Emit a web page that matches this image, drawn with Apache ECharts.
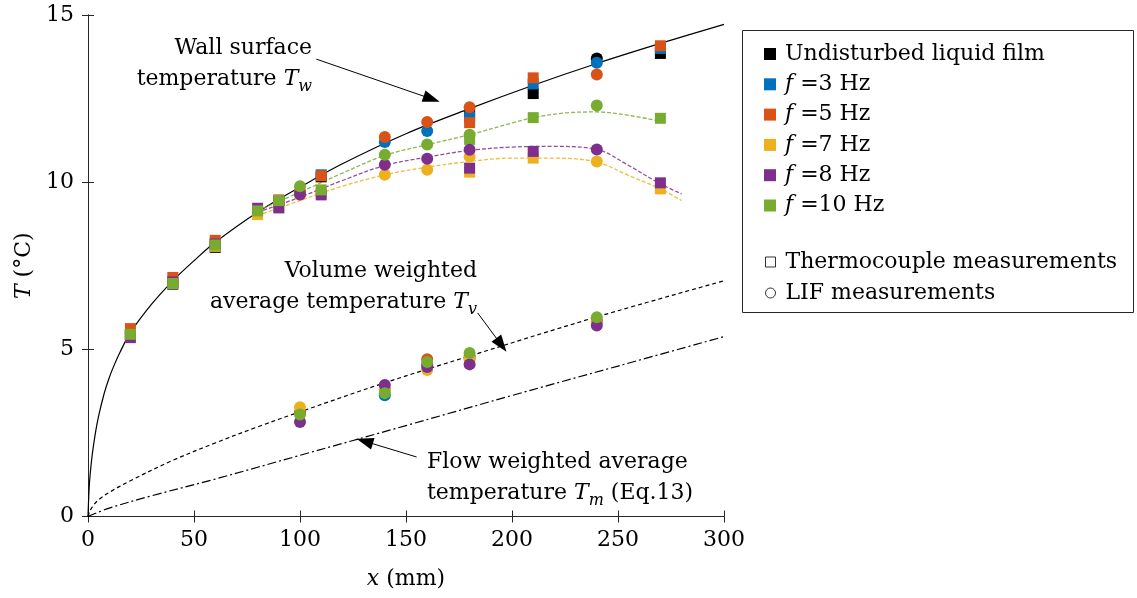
<!DOCTYPE html>
<html><head><meta charset="utf-8">
<script src="https://cdn.jsdelivr.net/npm/echarts@6/dist/echarts.min.js"></script>
<style>html,body{margin:0;padding:0;background:#fff}#c{width:1137px;height:598px}</style>
</head><body><div id="c"></div>
<script>
// ---------- data ----------
const seriesNames = ['Undisturbed liquid film', 'f =3 Hz', 'f =5 Hz', 'f =7 Hz', 'f =8 Hz', 'f =10 Hz'];
const seriesColors = ['#000000', '#0072BD', '#D95319', '#EDB120', '#7E2F8E', '#77AC30'];
const shapeNames = ['Thermocouple measurements', 'LIF measurements'];

// thermocouple measurements (squares)
const tcX = [20, 40, 60, 80, 90, 110, 180, 210, 270];
const tcUndisturbed = [5.45, 6.95, 8.05, null, 9.45, 10.16, 12.05, 12.65, 13.85];
const tcF3 = [5.45, 7.00, 8.15, null, 9.45, 10.22, 11.95, 12.94, 14.00];
const tcF5 = [5.62, 7.15, 8.26, null, 9.47, 10.19, 11.78, 13.12, 14.08];
const tcF7 = [5.42, 6.97, 8.08, 9.03, 9.25, 9.70, 10.30, 10.72, 9.80];
const tcF8 = [5.35, 7.02, 8.15, 9.22, 9.23, 9.62, 10.42, 10.92, 9.98];
const tcF10 = [5.45, 6.97, 8.12, 9.14, 9.45, 9.77, 11.28, 11.93, 11.91];

// LIF measurements (circles) - wall surface
const lifX = [100, 140, 160, 180, 240];
const lifWallUndisturbed = [null, null, null, null, 13.70];
const lifWallF3 = [9.70, 11.20, 11.53, null, 13.57];
const lifWallF5 = [9.72, 11.35, 11.80, 12.24, 13.22];
const lifWallF7 = [9.62, 10.22, 10.37, 10.76, 10.62];
const lifWallF8 = [9.63, 10.52, 10.70, 10.97, 10.98];
const lifWallF10 = [9.88, 10.82, 11.13, 11.42, 12.29];
// LIF measurements (circles) - volume average
const lifVolUndisturbed = [null, null, null, null, null];
const lifVolF3 = [3.10, 3.63, 4.55, 4.74, 5.85];
const lifVolF5 = [3.10, 3.80, 4.70, 4.80, 5.82];
const lifVolF7 = [3.27, 3.80, 4.38, 4.70, 5.80];
const lifVolF8 = [2.83, 3.93, 4.47, 4.55, 5.71];
const lifVolF10 = [3.05, 3.69, 4.62, 4.89, 5.96];

// curves
const twX = [0, 0.5, 1, 2, 3.5, 5, 7.5, 10, 12.5, 15, 20, 30, 40, 50, 60, 80, 100, 120, 150, 180, 210, 240, 270, 300];
const twT = [0, 0.8, 1.25, 1.85, 2.5, 3.0, 3.65, 4.15, 4.55, 4.9, 5.5, 6.35, 7.05, 7.65, 8.2, 9.1, 9.85, 10.55, 11.45, 12.2, 12.9, 13.55, 14.15, 14.72];
const tvX = [0, 1, 2.5, 5, 10, 20, 40, 60, 80, 100, 140, 180, 240, 300];
const tvT = [0, 0.18, 0.33, 0.5, 0.72, 1.07, 1.68, 2.2, 2.68, 3.13, 4.0, 4.8, 5.97, 7.05];
const tmX = [0, 10, 30, 60, 100, 150, 200, 250, 300];
const tmT = [0, 0.25, 0.62, 1.12, 1.83, 2.72, 3.62, 4.5, 5.38];
const fitX = [80, 100, 120, 140, 160, 180, 200, 220, 240, 255, 270, 280];
const fitF7 = [9.0, 9.45, 9.88, 10.22, 10.45, 10.62, 10.72, 10.72, 10.6, 10.2, 9.8, 9.45];
const fitF8 = [9.1, 9.55, 10.05, 10.5, 10.75, 10.95, 11.05, 11.07, 10.98, 10.5, 9.95, 9.65];
const fitF10X = [80, 100, 120, 140, 160, 180, 200, 210, 225, 240, 255, 270];
const fitF10 = [9.15, 9.7, 10.27, 10.8, 11.12, 11.42, 11.77, 11.93, 12.07, 12.1, 12.0, 11.82];

// annotation arrows (data coordinates: start -> tip)
const arrowWall = [[107.7, 13.68], [162.1, 12.49]];
const arrowVol = [[183.8, 6.09], [195.0, 5.13]];
const arrowFlow = [[155.0, 1.78], [130.5, 2.25]];

// axes ticks
const xMin = 0, xMax = 300, xStep = 50;
const yMin = 0, yMax = 15, yStep = 5;

// ---------- build ----------
const FONT = 'DejaVu Serif';
const pairs = (xs, ys) => xs.map((x, i) => [x, ys[i]]).filter(p => p[1] !== null && p[1] !== undefined);

const tcSets = [tcUndisturbed, tcF3, tcF5, tcF7, tcF8, tcF10];
const lifWallSets = [lifWallUndisturbed, lifWallF3, lifWallF5, lifWallF7, lifWallF8, lifWallF10];
const lifVolSets = [lifVolUndisturbed, lifVolF3, lifVolF5, lifVolF7, lifVolF8, lifVolF10];

const series = [];
const lineBase = { type: 'line', showSymbol: false, symbol: 'none', silent: true, z: 2, smooth: 0.35 };
series.push(Object.assign({}, lineBase, { name: 'Tw', data: pairs(twX, twT), lineStyle: { color: '#000', width: 1.2, type: 'solid' } }));
series.push(Object.assign({}, lineBase, { name: 'Tv', data: pairs(tvX, tvT), lineStyle: { color: '#000', width: 1.2, type: [4, 3] } }));
series.push(Object.assign({}, lineBase, { name: 'Tm', data: pairs(tmX, tmT), lineStyle: { color: '#000', width: 1.2, type: [9, 3, 2, 3] } }));
series.push(Object.assign({}, lineBase, { name: 'fit7', data: pairs(fitX, fitF7), lineStyle: { color: seriesColors[3], width: 1.3, type: [4, 2], opacity: 0.85 } }));
series.push(Object.assign({}, lineBase, { name: 'fit8', data: pairs(fitX, fitF8), lineStyle: { color: seriesColors[4], width: 1.3, type: [4, 2], opacity: 0.85 } }));
series.push(Object.assign({}, lineBase, { name: 'fit10', data: pairs(fitF10X, fitF10), lineStyle: { color: seriesColors[5], width: 1.3, type: [4, 2], opacity: 0.85 } }));

for (let k = 0; k < seriesNames.length; k++) {
  series.push({ type: 'scatter', name: seriesNames[k], symbol: 'rect', symbolSize: 11, z: 3,
    itemStyle: { color: seriesColors[k], opacity: 1 }, data: pairs(tcX, tcSets[k]) });
}
for (let k = 0; k < seriesNames.length; k++) {
  series.push({ type: 'scatter', name: seriesNames[k], symbol: 'circle', symbolSize: 12, z: 4,
    itemStyle: { color: seriesColors[k], opacity: 1 }, data: pairs(lifX, lifWallSets[k]).concat(pairs(lifX, lifVolSets[k])) });
}
series.push({ type: 'scatter', name: shapeNames[0], data: [], symbol: 'rect', itemStyle: { color: '#fff', borderColor: '#000', borderWidth: 1 } });
series.push({ type: 'scatter', name: shapeNames[1], data: [], symbol: 'circle', itemStyle: { color: '#fff', borderColor: '#000', borderWidth: 1 } });

const arrowItem = (a) => [{ coord: a[0], symbol: 'none' }, { coord: a[1], symbol: 'triangle', symbolSize: [12, 17] }];
series.push({ type: 'line', name: 'arrows', data: [], silent: true, z: 5,
  markLine: { silent: true, animation: false, label: { show: false }, symbol: ['none', 'triangle'],
    lineStyle: { color: '#000', width: 1, type: 'solid' }, itemStyle: { color: '#000' },
    emphasis: { disabled: true },
    data: [arrowItem(arrowWall), arrowItem(arrowVol), arrowItem(arrowFlow)] } });

const axisLineStyle = { color: '#262626', width: 1 };
const tickStyle = { show: true, inside: true, length: 6, lineStyle: { color: '#262626' } };
const richI = { i: { fontStyle: 'italic', fontFamily: FONT, fontSize: 22, color: '#000' } };

const txt = (x, y, text, align) => ({
  type: 'text', x: x, y: y, silent: true,
  style: {
    text: text, fill: '#000', fontFamily: FONT, fontSize: 22, lineHeight: 31, align: align, verticalAlign: 'middle',
    rich: {
      n: { fontFamily: FONT, fontSize: 22, fill: '#000' },
      t: { fontFamily: FONT, fontSize: 22, fontStyle: 'italic', fill: '#000' },
      s: { fontFamily: FONT, fontSize: 16, fontStyle: 'italic', fill: '#000', padding: [14, 0, 0, 0] }
    }
  }
});

const option = {
  animation: false,
  backgroundColor: '#fff',
  grid: { left: 88, right: 413, top: 15, bottom: 81.5, containLabel: false },
  xAxis: [
    { type: 'value', min: xMin, max: xMax, interval: xStep, position: 'bottom',
      name: '{i|x} (mm)', nameLocation: 'middle', nameGap: 52,
      nameTextStyle: { fontFamily: FONT, fontSize: 22, color: '#000', rich: richI },
      axisLine: { show: true, lineStyle: axisLineStyle }, axisTick: tickStyle,
      axisLabel: { fontFamily: FONT, fontSize: 22, color: '#000', margin: 13 }, splitLine: { show: false } },
    { type: 'value', min: xMin, max: xMax, interval: xStep, position: 'top',
      axisLine: { show: true, lineStyle: axisLineStyle }, axisTick: tickStyle,
      axisLabel: { show: false }, splitLine: { show: false } }
  ],
  yAxis: [
    { type: 'value', min: yMin, max: yMax, interval: yStep, position: 'left',
      name: '{i|T} (°C)', nameLocation: 'middle', nameGap: 50, nameRotate: 90,
      nameTextStyle: { fontFamily: FONT, fontSize: 22, color: '#000', rich: richI },
      axisLine: { show: true, lineStyle: axisLineStyle }, axisTick: tickStyle,
      axisLabel: { fontFamily: FONT, fontSize: 22, color: '#000', margin: 14 }, splitLine: { show: false } },
    { type: 'value', min: yMin, max: yMax, interval: yStep, position: 'right',
      axisLine: { show: true, lineStyle: axisLineStyle }, axisTick: tickStyle,
      axisLabel: { show: false }, splitLine: { show: false } }
  ],
  legend: [
    { data: seriesNames.map(n => ({ name: n, icon: 'rect' })), orient: 'vertical', left: 759, top: 38,
      itemWidth: 12, itemHeight: 12, itemGap: 8.3, selectedMode: false,
      textStyle: { fontFamily: FONT, fontSize: 22, color: '#000', lineHeight: 22, padding: [0, 0, 0, 4], rich: richI },
      formatter: (name) => name.startsWith('f ') ? '{i|f}' + name.slice(1) : name },
    { data: [{ name: shapeNames[0], icon: 'rect', itemStyle: { color: '#fff', borderColor: '#000', borderWidth: 1 } },
             { name: shapeNames[1], icon: 'circle', itemStyle: { color: '#fff', borderColor: '#000', borderWidth: 1 } }],
      orient: 'vertical', left: 760, top: 246, itemWidth: 10, itemHeight: 10, itemGap: 9, selectedMode: false,
      textStyle: { fontFamily: FONT, fontSize: 22, color: '#000', lineHeight: 22, padding: [0, 0, 0, 5] } }
  ],
  graphic: [
    { type: 'rect', shape: { x: 742.5, y: 30.5, width: 391, height: 282 }, style: { fill: 'none', stroke: '#262626', lineWidth: 1 }, silent: true, z: 0 },
    txt(312, 64, 'Wall surface\ntemperature {t|T}{s|w}', 'right'),
    txt(477, 287, 'Volume weighted\naverage temperature {t|T}{s|v}', 'right'),
    txt(427, 478, 'Flow weighted average\ntemperature {t|T}{s|m} (Eq.13)', 'left')
  ],
  series: series
};

const chart = echarts.init(document.getElementById('c'), null, { renderer: 'canvas' });
chart.setOption(option);
</script>
</body></html>
